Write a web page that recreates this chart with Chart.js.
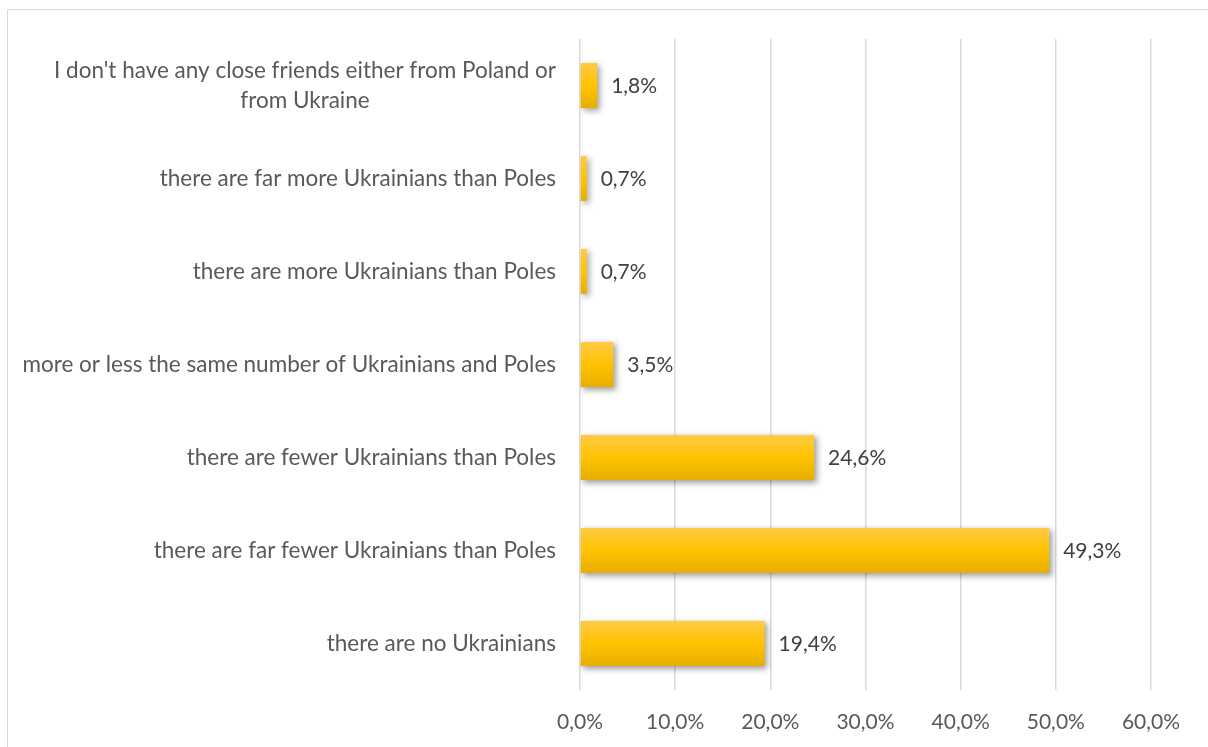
<!DOCTYPE html>
<html>
<head>
<meta charset="utf-8">
<script src="https://cdn.jsdelivr.net/npm/chart.js@4/dist/chart.umd.min.js"></script>
<style>
  html, body { margin: 0; padding: 0; background: #ffffff; overflow: hidden; }
  #wrap { position: relative; width: 1208px; height: 747px; }
  #frame { position: absolute; left: 7px; top: 9px; width: 1220px; height: 760px;
           border: 1.5px solid #d9d9d9; box-sizing: border-box; pointer-events: none; }
  canvas { position: absolute; left: 0; top: 0; }
</style>
</head>
<body>
<div id="wrap">
  <div id="frame"></div>
  <canvas id="chart" width="1208" height="747"></canvas>
</div>
<script>
// Answer categories, listed top to bottom
const categories = [
  ["I don't have any close friends either from Poland or", "from Ukraine"],
  "there are far more Ukrainians than Poles",
  "there are more Ukrainians than Poles",
  "more or less the same number of Ukrainians and Poles",
  "there are fewer Ukrainians than Poles",
  "there are far fewer Ukrainians than Poles",
  "there are no Ukrainians"
];
// Share of respondents, in percent
const shares = [1.8, 0.7, 0.7, 3.5, 24.6, 49.3, 19.4];
// Value axis ticks, in percent
const axisTicks = [0, 10, 20, 30, 40, 50, 60];

const FONT = "Lato, 'Open Sans', sans-serif";
const BAR_FRACTION = 0.485;

const fmt = v => v.toFixed(1).replace('.', ',') + '%';

// Soft drop shadow behind the bars
const barShadow = {
  id: 'barShadow',
  beforeDatasetsDraw(chart) {
    const c = chart.ctx;
    c.save();
    c.shadowColor = 'rgba(0,0,0,0.38)';
    c.shadowBlur = 6;
    c.shadowOffsetX = 2.5;
    c.shadowOffsetY = 2.5;
  },
  afterDatasetsDraw(chart) {
    chart.ctx.restore();
  }
};

// Category labels: single lines right-aligned, wrapped label centred as a block
const categoryLabels = {
  id: 'categoryLabels',
  afterDraw(chart) {
    const c = chart.ctx;
    const y = chart.scales.y;
    const right = chart.chartArea.left - 24;
    const lh = 30;
    c.save();
    c.font = '22.5px ' + FONT;
    c.fillStyle = '#595959';
    c.textBaseline = 'middle';
    categories.forEach((lab, i) => {
      const yc = y.getPixelForValue(i);
      const lines = Array.isArray(lab) ? lab : [lab];
      if (lines.length === 1) {
        c.textAlign = 'right';
        c.fillText(lines[0], right, yc);
      } else {
        const w = Math.max(...lines.map(l => c.measureText(l).width));
        const cx = right - w / 2;
        c.textAlign = 'center';
        lines.forEach((l, k) => {
          c.fillText(l, cx, yc + (k - (lines.length - 1) / 2) * lh);
        });
      }
    });
    c.restore();
  }
};

// Value labels at the end of each bar
const valueLabels = {
  id: 'valueLabels',
  afterDatasetsDraw(chart) {
    const c = chart.ctx;
    const x = chart.scales.x;
    const y = chart.scales.y;
    c.save();
    c.font = '21px ' + FONT;
    c.fillStyle = '#404040';
    c.textAlign = 'left';
    c.textBaseline = 'middle';
    shares.forEach((v, i) => {
      c.fillText(fmt(v), x.getPixelForValue(v) + 14, y.getPixelForValue(i) + 1);
    });
    c.restore();
  }
};

function barFill(context) {
  const chart = context.chart;
  const y = chart.scales.y;
  if (!y || !chart.chartArea) return '#FFC000';
  const band = (chart.chartArea.bottom - chart.chartArea.top) / categories.length;
  const half = band * BAR_FRACTION / 2;
  const yc = y.getPixelForValue(context.dataIndex);
  const g = chart.ctx.createLinearGradient(0, yc - half, 0, yc + half);
  g.addColorStop(0, '#FFCA45');
  g.addColorStop(0.5, '#FFC300');
  g.addColorStop(1, '#E6AE00');
  return g;
}

new Chart(document.getElementById('chart'), {
  type: 'bar',
  data: {
    labels: categories,
    datasets: [{
      data: shares,
      backgroundColor: barFill,
      borderWidth: 0,
      barPercentage: BAR_FRACTION,
      categoryPercentage: 1
    }]
  },
  options: {
    indexAxis: 'y',
    responsive: false,
    animation: false,
    devicePixelRatio: 1,
    layout: { padding: { top: 39, right: 57, bottom: 0, left: 0 } },
    plugins: { legend: { display: false }, tooltip: { enabled: false } },
    scales: {
      x: {
        min: 0,
        max: 60,
        afterBuildTicks(scale) { scale.ticks = axisTicks.map(v => ({ value: v })); },
        grid: { color: '#d9d9d9', lineWidth: 1.5, drawTicks: false },
        border: { display: false },
        ticks: {
          padding: 20,
          color: '#595959',
          font: { family: FONT, size: 21 },
          maxRotation: 0,
          callback: v => fmt(v)
        },
        afterFit(scale) { scale.height = 57; }
      },
      y: {
        grid: { display: false, drawTicks: false },
        border: { display: false },
        ticks: { display: false },
        afterFit(scale) { scale.width = 580; }
      }
    }
  },
  plugins: [barShadow, valueLabels, categoryLabels]
});
</script>
</body>
</html>
